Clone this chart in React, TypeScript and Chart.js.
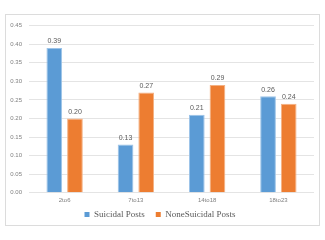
import React, { useEffect, useRef } from "react";
import { Chart, registerables } from "chart.js";

Chart.register(...registerables);

const categories = ["2to6", "7to13", "14to18", "18to23"];
const suicidal = [0.39, 0.13, 0.21, 0.26];
const nonSuicidal = [0.2, 0.27, 0.29, 0.24];
const suicidalLabels = ["0.39", "0.13", "0.21", "0.26"];
const nonSuicidalLabels = ["0.20", "0.27", "0.29", "0.24"];

const valueLabels = {
  id: "valueLabels",
  afterDatasetsDraw(chart: any) {
    const ctx = chart.ctx;
    const texts = [suicidalLabels, nonSuicidalLabels];
    ctx.save();
    ctx.font = "7px 'Liberation Sans', Arial, sans-serif";
    ctx.fillStyle = "#595959";
    ctx.textAlign = "center";
    ctx.textBaseline = "bottom";
    chart.data.datasets.forEach((_: any, di: number) => {
      const meta = chart.getDatasetMeta(di);
      meta.data.forEach((bar: any, i: number) => {
        ctx.fillText(texts[di][i], bar.x, bar.y - 3);
      });
    });
    ctx.restore();
  },
};

export default function App() {
  const ref = useRef<HTMLCanvasElement>(null);
  useEffect(() => {
    if (!ref.current) return;
    const chart = new Chart(ref.current, {
      type: "bar",
      data: {
        labels: categories,
        datasets: [
          {
            label: "Suicidal Posts",
            data: suicidal,
            backgroundColor: "#5B9BD5",
            borderColor: "#9cc3e8",
            borderWidth: 1,
            barPercentage: 0.76,
            categoryPercentage: 0.58,
          },
          {
            label: "NoneSuicidal Posts",
            data: nonSuicidal,
            backgroundColor: "#ED7D31",
            borderColor: "#f4b183",
            borderWidth: 1,
            barPercentage: 0.76,
            categoryPercentage: 0.58,
          },
        ],
      },
      options: {
        animation: false,
        responsive: false,
        maintainAspectRatio: false,
        layout: { padding: { left: 0, top: 2, right: 5, bottom: -4 } },
        plugins: {
          legend: {
            position: "bottom",
            labels: {
              boxWidth: 5,
              boxHeight: 5,
              padding: 2,
              color: "#595959",
              font: { family: "'Liberation Serif', 'Times New Roman', serif", size: 9 },
              generateLabels: (chart: any) => {
                const items = Chart.defaults.plugins.legend.labels.generateLabels(chart);
                return items.map((it: any, i: number) => ({
                  ...it,
                  text: i === 0 ? it.text + "\u00a0\u00a0\u00a0\u00a0" : it.text,
                  lineWidth: 0,
                }));
              },
            },
          },
          tooltip: { enabled: false },
        },
        scales: {
          x: {
            grid: { display: false, drawTicks: false },
            border: { display: false },
            ticks: {
              color: "#808080",
              font: { family: "'Liberation Sans', Arial, sans-serif", size: 6 },
              padding: 4,
            },
          },
          y: {
            min: 0,
            max: 0.45,
            afterFit: (s: any) => {
              s.width = 23;
            },
            grid: { color: "#e4e4e4", drawTicks: false },
            border: { display: false },
            ticks: {
              stepSize: 0.05,
              padding: 7,
              color: "#808080",
              font: { family: "'Liberation Sans', Arial, sans-serif", size: 6 },
              callback: (v: any) => Number(v).toFixed(2),
            },
          },
        },
      },
      plugins: [valueLabels],
    });
    return () => chart.destroy();
  }, []);
  return (
    <div
      style={{
        position: "absolute",
        left: 5,
        top: 14,
        width: 315,
        height: 212,
        border: "1px solid #dcdcdc",
        boxSizing: "border-box",
        background: "#fff",
      }}
    >
      <canvas ref={ref} width={313} height={210} style={{ display: "block" }} />
    </div>
  );
}
